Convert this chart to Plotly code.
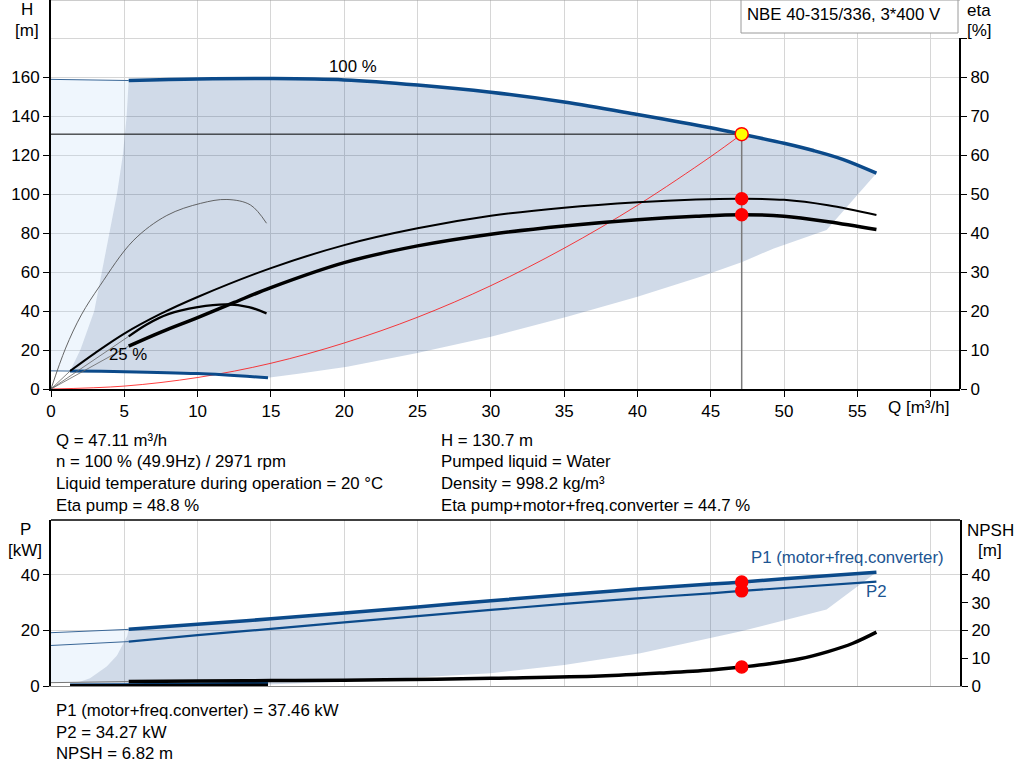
"""
Pump performance curves (NBE 40-315/336) redrawn with Plotly
"""

import plotly.graph_objects as go

# duty point
Q_DUTY = 47.11
H_DUTY = 130.7
ETA_PUMP_DUTY = 48.8
ETA_TOTAL_DUTY = 44.7
P1_DUTY = 37.46
P2_DUTY = 34.27
NPSH_DUTY = 6.82

# QH curve, 100 % speed (thick part + thin extension to Q=0)
q_h100 = [5.3, 10, 15, 20, 25, 30, 35, 40, 45, 47.11, 50, 52, 54, 56.3]
h_h100 = [158.2, 159.0, 159.2, 158.5, 155.9, 152.2, 147.2, 140.8, 134.0, 130.7, 126.0, 122.3, 117.8, 110.7]
q_h100_ext = [0, 5.3]
h_h100_ext = [158.8, 158.2]

# QH curve, 25 % speed
q_h25 = [1.3, 5, 10, 14.8]
h_h25 = [9.2, 8.9, 7.9, 5.8]
q_h25_ext = [0, 1.3]
h_h25_ext = [9.3, 9.2]

# system curve through the duty point
q_sys = [0, 5, 10, 15, 20, 25, 30, 35, 40, 45, 47.11]
h_sys = [0, 1.5, 5.9, 13.2, 23.6, 36.8, 53.0, 72.2, 94.2, 119.2, 130.7]

# efficiency curves [%]
q_eta_pump = [1.3, 3, 5, 7.5, 10, 15, 20, 25, 30, 35, 40, 44, 47.11, 50, 53, 56.3]
eta_pump = [4.6, 9.2, 14.2, 19.3, 23.6, 31.0, 36.9, 41.2, 44.4, 46.5, 47.9, 48.6, 48.8, 48.5, 47.1, 44.6]
q_eta_total = [5.3, 7.5, 10, 12.5, 15, 20, 25, 30, 35, 40, 44, 47.11, 50, 53, 56.3]
eta_total = [11.0, 14.6, 18.3, 22.2, 26.0, 32.4, 36.7, 39.7, 41.8, 43.4, 44.3, 44.7, 44.3, 42.9, 40.9]
q_eta_total25 = [5.3, 6.5, 8, 10, 12, 13.5, 14.7]
eta_total25 = [13.5, 16.5, 19.2, 21.0, 21.7, 21.0, 19.4]
q_eta_pump25 = [0, 1, 2.07, 3.34, 5.6, 7.9, 10.2, 12, 13.6, 14.7]
eta_pump25 = [0, 10.5, 19.0, 26.5, 38.0, 44.5, 47.6, 48.6, 47.2, 42.5]

# operating range (shaded) in the QH chart
q_range_left = [1.3, 2.0, 2.95, 3.46, 4.0, 4.5, 4.9, 5.16, 5.3]
h_range_left = [9.2, 20, 40, 60, 80, 100, 120, 140, 158.2]
q_range_low = [56.3, 52.9, 49.3, 47.1, 44.3, 40, 35.2, 30, 24.9, 20.2, 17, 14.8]
h_range_low = [110.7, 81.5, 72.1, 65, 57.6, 47.3, 37, 26.8, 18.3, 11.4, 8, 5.8]

# power curves [kW]
q_pow = [5.3, 10, 15, 20, 25, 30, 35, 40, 45, 47.11, 50, 56.3]
p1 = [20.4, 22.2, 24.2, 26.3, 28.5, 30.7, 32.9, 34.9, 36.7, 37.46, 38.6, 41.0]
p2 = [16.0, 18.3, 20.6, 22.9, 25.2, 27.4, 29.6, 31.6, 33.4, 34.27, 35.3, 37.6]
q_pow_ext = [0, 5.3]
p1_ext = [19.2, 20.4]
p2_ext = [14.6, 16.0]
q_pow25 = [1.3, 5, 10, 14.8]
p1_25 = [0.3, 0.4, 0.65, 1.0]

# NPSH [m]
q_npsh = [5.3, 10, 15, 20, 26.3, 30, 37.45, 42, 45, 47.11, 49, 51, 53, 54.7, 56.3]
npsh = [1.6, 1.8, 1.95, 2.1, 2.4, 2.8, 3.6, 4.8, 5.8, 6.82, 8.0, 9.7, 12.4, 15.4, 19.4]
q_npsh_ext = [0, 5.3]
npsh_ext = [1.2, 1.6]
npsh25 = [0.05, 0.1, 0.2, 0.3]

# operating range (shaded) in the power chart
q_prange_left = [1.3, 1.98, 2.66, 3.8, 4.5, 4.93, 5.2, 5.3]
p_prange_left = [1.2, 1.5, 2.8, 7, 11, 15.4, 18, 20.4]
q_prange_low = [56.3, 52.9, 47.0, 40.2, 35, 30, 24.3, 19.7, 14.8]
p_prange_low = [41.0, 27.6, 19.6, 11.8, 7.6, 4.6, 3.0, 1.5, 0.5]

# axis ticks
q_ticks = list(range(0, 61, 5))
q_labels = [str(v) for v in q_ticks[:-1]] + ['']
h_ticks = list(range(0, 161, 20))
eta_ticks = list(range(0, 91, 10))
eta_labels = [str(v) for v in eta_ticks[:-1]] + ['']
p_ticks = [0, 20, 40]
npsh_ticks = [0, 10, 20, 30, 40]

# page geometry (pixels)
W, HP = 1024, 781
ML, MR, MT, MB = 51, 64, 0, 95
PW, PH = W - ML - MR, HP - MT - MB
TOP_DOMAIN = [(PH - 389) / PH, 1.0]
BOT_DOMAIN = [0.0, (PH - 520) / PH]

FONT = 'Liberation Sans, Arial, sans-serif'
TXT = 16.8
BLUE = '#0b4a8a'
THIN_BLUE = '#3a6797'
GRID = '#d6d6d6'
DARK_FILL = 'rgba(20,70,140,0.2)'
LIGHT_FILL = 'rgba(180,215,245,0.22)'


def paper(xp, yp):
    return (xp - ML) / PW, (HP - MB - yp) / PH


def line(x, y, color, width, xa='x', ya='y', shape='spline'):
    return go.Scatter(x=x, y=y, mode='lines', xaxis=xa, yaxis=ya,
                      line=dict(color=color, width=width, shape=shape),
                      hoverinfo='skip', showlegend=False)


def area(x, y, color, xa='x', ya='y'):
    return go.Scatter(x=x, y=y, mode='lines', fill='toself', fillcolor=color,
                      line=dict(width=0), xaxis=xa, yaxis=ya,
                      hoverinfo='skip', showlegend=False)


def dots(x, y, ya, size=12, color='#ff0000', outline='#ff0000', xa='x'):
    return go.Scatter(x=x, y=y, mode='markers', xaxis=xa, yaxis=ya,
                      marker=dict(size=size, color=color,
                                  line=dict(color=outline, width=1.5)),
                      hoverinfo='skip', showlegend=False)


fig = go.Figure()

# ---- QH / eta chart -------------------------------------------------
light_x = q_h100_ext + q_range_left[::-1] + q_h25_ext[:1]
light_y = h_h100_ext + h_range_left[::-1] + h_h25_ext[:1]
fig.add_trace(area(light_x, light_y, LIGHT_FILL))

dark_x = q_h100 + q_range_low + q_h25[::-1] + q_range_left
dark_y = h_h100 + h_range_low + h_h25[::-1] + h_range_left
fig.add_trace(area(dark_x, dark_y, DARK_FILL))

fig.add_trace(line(q_sys, h_sys, 'rgba(255,0,0,0.75)', 1))
fig.add_trace(line([0, Q_DUTY], [H_DUTY, H_DUTY], '#000000', 1, shape='linear'))
fig.add_trace(line([Q_DUTY, Q_DUTY], [0, H_DUTY], '#7a7a7a', 1.5, shape='linear'))

fig.add_trace(line(q_h100_ext, h_h100_ext, THIN_BLUE, 1, shape='linear'))
fig.add_trace(line(q_h25_ext, h_h25_ext, THIN_BLUE, 1, shape='linear'))
fig.add_trace(line(q_h100, h_h100, BLUE, 3.5))
fig.add_trace(line(q_h25, h_h25, BLUE, 3))

# thin extensions of the efficiency curves towards Q=0
for qs, es in [(q_eta_pump, eta_pump), (q_eta_total, eta_total),
               (q_eta_total25, eta_total25)]:
    fig.add_trace(line([0, qs[0]], [0, es[0]], '#666666', 0.8, ya='y3', shape='linear'))
fig.add_trace(line(q_eta_pump25, eta_pump25, '#555555', 0.9, ya='y3'))
fig.add_trace(line(q_eta_pump, eta_pump, '#000000', 2, ya='y3'))
fig.add_trace(line(q_eta_total25, eta_total25, '#000000', 2.3, ya='y3'))
fig.add_trace(line(q_eta_total, eta_total, '#000000', 3.5, ya='y3'))

fig.add_trace(dots([Q_DUTY, Q_DUTY], [ETA_PUMP_DUTY, ETA_TOTAL_DUTY], 'y3'))
fig.add_trace(dots([Q_DUTY], [H_DUTY], 'y', size=13, color='#ffff00'))

# ---- power / NPSH chart ---------------------------------------------
plight_x = q_pow_ext + q_prange_left[::-1] + q_npsh_ext[:1]
plight_y = p1_ext + p_prange_left[::-1] + npsh_ext[:1]
fig.add_trace(area(plight_x, plight_y, LIGHT_FILL, xa='x2', ya='y2'))

pdark_x = q_pow + q_prange_low + q_pow25[::-1] + q_prange_left
pdark_y = p1 + p_prange_low + p1_25[::-1] + p_prange_left
fig.add_trace(area(pdark_x, pdark_y, DARK_FILL, xa='x2', ya='y2'))

fig.add_trace(line(q_pow_ext, p1_ext, THIN_BLUE, 1, xa='x2', ya='y2', shape='linear'))
fig.add_trace(line(q_pow_ext, p2_ext, THIN_BLUE, 1, xa='x2', ya='y2', shape='linear'))
fig.add_trace(line(q_pow, p2, BLUE, 2.2, xa='x2', ya='y2'))
fig.add_trace(line(q_pow, p1, BLUE, 3.5, xa='x2', ya='y2'))

fig.add_trace(line(q_npsh_ext, npsh_ext, '#777777', 1, xa='x2', ya='y4', shape='linear'))
fig.add_trace(line(q_pow25, npsh25, '#000000', 3.5, xa='x2', ya='y4'))
fig.add_trace(line(q_pow25, p1_25, BLUE, 3.5, xa='x2', ya='y2'))
fig.add_trace(line(q_npsh, npsh, '#000000', 3.5, xa='x2', ya='y4'))

fig.add_trace(dots([Q_DUTY, Q_DUTY], [P1_DUTY, P2_DUTY], 'y2', xa='x2'))
fig.add_trace(dots([Q_DUTY], [NPSH_DUTY], 'y4', xa='x2'))

# ---- axes -------------------------------------------------------------
tick_font = dict(family=FONT, size=17, color='#000000')
common_x = dict(range=[0, 62], tickvals=q_ticks, showgrid=True, gridcolor=GRID,
                gridwidth=1, zeroline=False, fixedrange=True, automargin=False)

fig.update_layout(
    width=W, height=HP,
    margin=dict(l=ML, r=MR, t=MT, b=MB),
    paper_bgcolor='white', plot_bgcolor='white',
    font=dict(family=FONT, size=TXT, color='#000000'),
    showlegend=False,
    xaxis=dict(common_x, anchor='y', ticktext=q_labels, ticks='outside', ticklen=6,
               tickcolor='#000000', showline=True, linecolor='#000000', linewidth=2,
               tickfont=tick_font),
    yaxis=dict(domain=TOP_DOMAIN, anchor='x', range=[0, 199.5], tickvals=h_ticks,
               ticks='outside', ticklen=6, tickcolor='#000000', showline=True,
               linecolor='#000000', linewidth=2, showgrid=True, gridcolor=GRID,
               zeroline=False, tickfont=tick_font, automargin=False,
               minor=dict(tickvals=[180], showgrid=True, gridcolor=GRID, ticks='')),
    yaxis3=dict(overlaying='y', side='right', anchor='x', range=[0, 99.75],
                tickvals=eta_ticks, ticktext=eta_labels, ticks='outside', ticklen=6,
                tickcolor='#000000', showline=False, showgrid=False, zeroline=False,
                tickfont=tick_font, automargin=False),
    xaxis2=dict(common_x, anchor='y2', matches='x', showticklabels=False, ticks='',
                showline=True, linecolor='#8a8a8a', linewidth=1),
    yaxis2=dict(domain=BOT_DOMAIN, anchor='x2', range=[0, 59.8], tickvals=p_ticks,
                ticks='outside', ticklen=6, tickcolor='#000000', showline=True,
                linecolor='#000000', linewidth=2, showgrid=True, gridcolor=GRID,
                zeroline=False, tickfont=tick_font, automargin=False),
    yaxis4=dict(overlaying='y2', side='right', anchor='x2', range=[0, 59.8],
                tickvals=npsh_ticks, ticks='outside', ticklen=6, tickcolor='#000000',
                showline=True, linecolor='#000000', linewidth=2, showgrid=False,
                zeroline=False, tickfont=tick_font, automargin=False),
)

# frame pieces
fig.add_shape(type='line', xref='paper', yref='paper', x0=0, x1=1, y0=1, y1=1,
              line=dict(color='#9a9a9a', width=1))
fig.add_shape(type='line', xref='paper', yref='y3', x0=1, x1=1, y0=0, y1=90,
              line=dict(color='#000000', width=2))
fig.add_shape(type='line', xref='paper', yref='paper', x0=0, x1=1,
              y0=BOT_DOMAIN[1], y1=BOT_DOMAIN[1], line=dict(color='#000000', width=1.5))

# title box
bx0, by0 = paper(741, 33)
bx1, by1 = paper(958, 0)
fig.add_shape(type='rect', xref='paper', yref='paper', x0=bx0, y0=by0, x1=bx1, y1=by1,
              line=dict(color='#9a9a9a', width=1), fillcolor='white', layer='above')


def label(text, xp, yp, anchor='left', color='#000000', size=TXT):
    x, y = paper(xp, yp)
    fig.add_annotation(text=text, x=x, y=y, xref='paper', yref='paper',
                       xanchor=anchor, yanchor='middle', showarrow=False,
                       font=dict(family=FONT, size=size, color=color))


label('NBE 40-315/336, 3*400 V', 745, 14)
label('H', 27, 9, 'center', size=17)
label('[m]', 27, 30, 'center', size=17)
label('eta', 979, 10, 'center', size=17)
label('[%]', 979, 31, 'center', size=17)
label('P', 25, 529, 'center', size=17)
label('[kW]', 25, 550, 'center', size=17)
label('NPSH', 991, 530, 'center', size=17)
label('[m]', 990, 550, 'center', size=17)
label('Q [m³/h]', 886, 407, size=17)
label('100 %', 327, 66)
label('25 %', 107, 355)
label('P1 (motor+freq.converter)', 749, 557, color='#1c5592')
label('P2', 864, 591, color='#1c5592')

info_left = ['Q = 47.11 m³/h', 'n = 100 % (49.9Hz) / 2971 rpm',
             'Liquid temperature during operation = 20 °C', 'Eta pump = 48.8 %']
info_right = ['H = 130.7 m', 'Pumped liquid = Water', 'Density = 998.2 kg/m³',
              'Eta pump+motor+freq.converter = 44.7 %']
info_bottom = ['P1 (motor+freq.converter) = 37.46 kW', 'P2 = 34.27 kW', 'NPSH = 6.82 m']

for i, (a, b) in enumerate(zip(info_left, info_right)):
    label(a, 54, 440 + 21.7 * i)
    label(b, 439, 440 + 21.7 * i)
for i, t in enumerate(info_bottom):
    label(t, 54, 711 + 21 * i)

# the page body has an 8px default margin; drop it so the figure sits at 0,0
fig.write_html('out.html', config={'displayModeBar': False},
               post_script="document.body.style.margin = '0';")
print('Created: out.html')
